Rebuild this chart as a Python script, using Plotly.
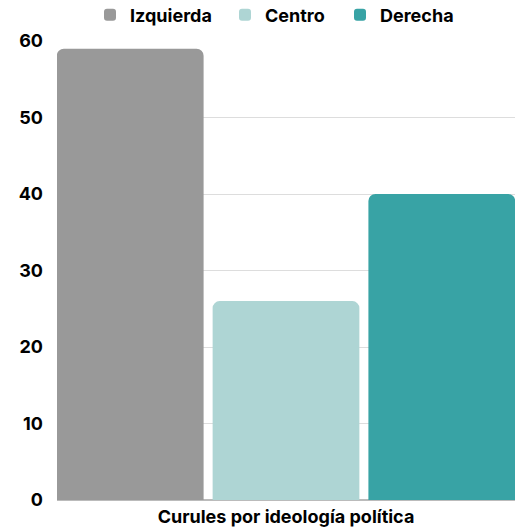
import plotly.graph_objects as go

category = ["Curules por ideología política"]
series_names = ["Izquierda", "Centro", "Derecha"]
series_values = [59, 26, 40]
colors = ["#999999", "#aed5d4", "#38a3a5"]

W, H = 515, 531
L, R, T, B = 57, 0, 41, 31
plot_w = W - L - R
legend_text_px = [130, 265, 380]  # x where each legend text starts
legend_ids = ["legend", "legend2", "legend3"]

fig = go.Figure()
for name, val, col, lid in zip(series_names, series_values, colors, legend_ids):
    fig.add_trace(go.Bar(x=category, y=[val], name=name, legend=lid, showlegend=True,
                         marker=dict(color=col, cornerradius=7, line=dict(width=0))))

font_family = "Inter, 'Open Sans', sans-serif"
legend_y = 1 + (T - 15) / (H - T - B)
layout_legends = {}
for lid, tx in zip(legend_ids, legend_text_px):
    left_fig = tx - 40
    layout_legends[lid] = dict(orientation="h", x=(left_fig - L) / plot_w, xanchor="left",
                               y=legend_y, yanchor="middle", bgcolor="rgba(0,0,0,0)",
                               font=dict(size=18, weight="bold", color="#000000"),
                               itemwidth=30, visible=True)

fig.update_layout(
    width=W, height=H, showlegend=True,
    margin=dict(l=L, r=R, t=T, b=B, autoexpand=False),
    barmode="group", bargap=0, bargroupgap=0.058,
    plot_bgcolor="white", paper_bgcolor="white",
    font=dict(family=font_family, size=18, color="#000000", weight="bold"),
    xaxis=dict(range=[-0.49, 0.49], showgrid=False, showline=False, ticks="",
               tickfont=dict(size=18, weight="bold"), ticklabelstandoff=4),
    yaxis=dict(range=[0, 60], dtick=10, showgrid=True, gridcolor="#dddddd",
               zeroline=True, zerolinecolor="#bbbbbb", showline=False,
               tickfont=dict(size=18, weight="bold"), ticklabelstandoff=13),
    **layout_legends,
)
fig.write_html("out.html", config={"displayModeBar": False},
               post_script="document.body.style.margin='0';document.body.style.overflow='hidden';")
